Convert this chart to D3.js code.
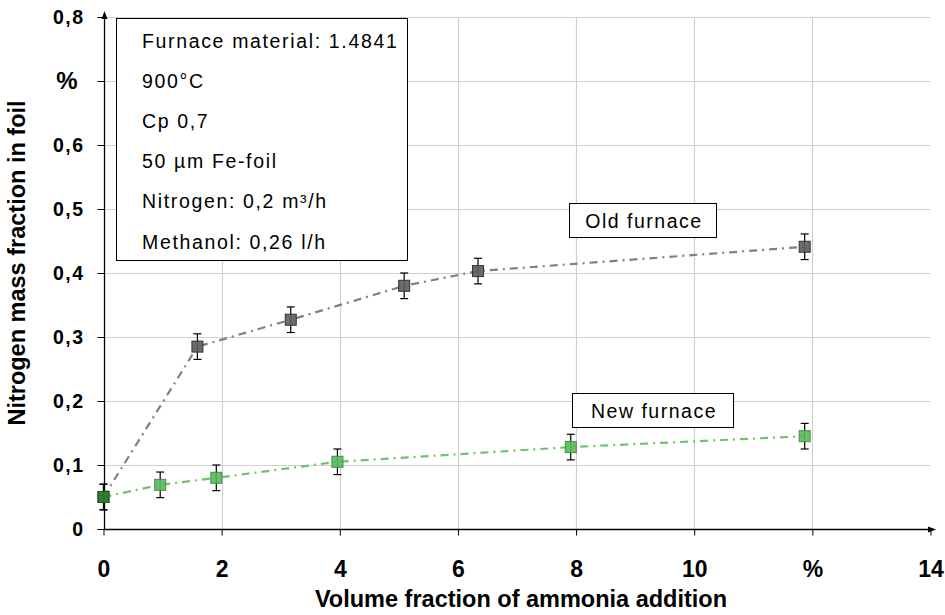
<!DOCTYPE html>
<html><head><meta charset="utf-8">
<script src="https://cdn.jsdelivr.net/npm/d3@7"></script>
<style>body{margin:0;background:#fff}svg{display:block}text{font-family:"Liberation Sans",Arial,sans-serif}</style>
</head><body><svg id="c" width="945" height="615"></svg>
<script>
const xTicks = [0, 2, 4, 6, 8, 10, 12, 14];
const xTickLabels = ["0", "2", "4", "6", "8", "10", "%", "14"];
const yTicks = [0, 0.1, 0.2, 0.3, 0.4, 0.5, 0.6, 0.7, 0.8];
const yTickLabels = ["0", "0,1", "0,2", "0,3", "0,4", "0,5", "0,6", "%", "0,8"];
const oldX = [0, 1.59, 3.17, 5.09, 6.34, 11.87];
const oldY = [0.05, 0.285, 0.327, 0.380, 0.403, 0.441];
const oldErr = [0.02, 0.02, 0.02, 0.02, 0.02, 0.02];
const newX = [0, 0.96, 1.91, 3.96, 7.91, 11.87];
const newY = [0.05, 0.069, 0.080, 0.105, 0.128, 0.145];
const newErr = [0.02, 0.02, 0.02, 0.02, 0.02, 0.02];
const infoLines = ["Furnace material: 1.4841", "900°C", "Cp 0,7", "50 µm Fe-foil", "Nitrogen: 0,2 m³/h", "Methanol: 0,26 l/h"];
const seriesNames = ["Old furnace", "New furnace"];

const svg = d3.select("#c");
const x = d3.scaleLinear().domain([0, 14]).range([103.5, 930.5]);
const y = d3.scaleLinear().domain([0, 0.8]).range([529, 17]);

// grid
const g = svg.append("g");
g.selectAll(".hg").data(yTicks.slice(1)).join("line")
  .attr("x1", x(0)).attr("x2", x(14)).attr("y1", d => Math.round(y(d)) + 0.5).attr("y2", d => Math.round(y(d)) + 0.5)
  .attr("stroke", "#cfcfcf").attr("stroke-width", 1.2);
g.selectAll(".vg").data(xTicks.slice(1, -1)).join("line")
  .attr("x1", d => Math.round(x(d)) + 0.5).attr("x2", d => Math.round(x(d)) + 0.5).attr("y1", y(0)).attr("y2", y(0.8))
  .attr("stroke", "#cfcfcf").attr("stroke-width", 1.2);

// axes
const xAxis = d3.axisBottom(x).tickValues(xTicks).tickFormat((d, i) => xTickLabels[i]).tickSizeOuter(0).tickSize(6).tickPadding(25);
const yAxis = d3.axisLeft(y).tickValues(yTicks).tickFormat((d, i) => yTickLabels[i]).tickSizeOuter(0).tickSize(7).tickPadding(13);
const gx = svg.append("g").attr("transform", `translate(0,${Math.round(y(0)) + 0.5})`).call(xAxis);
const gy = svg.append("g").attr("transform", `translate(${Math.round(x(0)) + 0.5},0)`).call(yAxis);
[gx, gy].forEach(a => {
  a.select(".domain").remove();
  a.selectAll("line").attr("stroke", "#000");
  a.selectAll("text").attr("fill", "#000").style("font-weight", "bold");
});
gx.selectAll("text").style("font-size", "23px");
gy.selectAll("text").style("font-size", "19.5px").style("letter-spacing", "1.5px");
gy.selectAll("text").filter(t => t === "%" ).style("font-size", "24px");
gy.selectAll("text").filter(function() { return this.textContent === "%"; })
  .style("font-size", "24px").style("letter-spacing", "0px").attr("x", -27).attr("text-anchor", "end");

// axis lines with arrows
const ax0 = Math.round(x(0)) + 0.5, ay0 = Math.round(y(0)) + 0.5;
svg.append("line").attr("x1", ax0).attr("x2", ax0).attr("y1", ay0).attr("y2", 14).attr("stroke", "#000").attr("stroke-width", 1.3);
svg.append("line").attr("x1", ax0).attr("x2", 931).attr("y1", ay0).attr("y2", ay0).attr("stroke", "#000").attr("stroke-width", 1.3);
svg.append("path").attr("d", `M${ax0},11 L${ax0 - 3},19 L${ax0 + 3},19 Z`).attr("fill", "#000");
svg.append("path").attr("d", `M936,${ay0} L928,${ay0 - 3} L928,${ay0 + 3} Z`).attr("fill", "#000");

// axis titles
svg.append("text").attr("x", 521).attr("y", 606.5).attr("text-anchor", "middle")
  .style("font-size", "23.5px").style("font-weight", "bold").text("Volume fraction of ammonia addition");
svg.append("text").attr("transform", "translate(25,263) rotate(-90)").attr("text-anchor", "middle")
  .style("font-size", "23.5px").style("font-weight", "bold").text("Nitrogen mass fraction in foil");

// lines
const line = d3.line().x(d => x(d[0])).y(d => y(d[1]));
const oldPts = oldX.map((v, i) => [v, oldY[i], oldErr[i]]);
const newPts = newX.map((v, i) => [v, newY[i], newErr[i]]);
svg.append("path").datum(oldPts).attr("d", line).attr("fill", "none").attr("stroke", "#808080").attr("stroke-width", 2.2).attr("stroke-dasharray", "8,5,2,5");
svg.append("path").datum(newPts).attr("d", line).attr("fill", "none").attr("stroke", "#6cc46c").attr("stroke-width", 2.2).attr("stroke-dasharray", "8,5,2,5");

function drawSeries(pts, fill, stroke, firstFill, firstStroke) {
  const s = svg.append("g");
  const eb = s.selectAll("g.eb").data(pts).join("g");
  eb.append("line").attr("x1", d => x(d[0])).attr("x2", d => x(d[0])).attr("y1", d => y(d[1] - d[2])).attr("y2", d => y(d[1] + d[2])).attr("stroke", "#000").attr("stroke-width", 1.2);
  eb.append("line").attr("x1", d => x(d[0]) - 4).attr("x2", d => x(d[0]) + 4).attr("y1", d => y(d[1] - d[2])).attr("y2", d => y(d[1] - d[2])).attr("stroke", "#000").attr("stroke-width", 1.2);
  eb.append("line").attr("x1", d => x(d[0]) - 4).attr("x2", d => x(d[0]) + 4).attr("y1", d => y(d[1] + d[2])).attr("y2", d => y(d[1] + d[2])).attr("stroke", "#000").attr("stroke-width", 1.2);
  s.selectAll("rect").data(pts).join("rect")
    .attr("x", d => x(d[0]) - 5.5).attr("y", d => y(d[1]) - 5.5).attr("width", 11).attr("height", 11)
    .attr("fill", (d, i) => i === 0 && firstFill ? firstFill : fill)
    .attr("stroke", (d, i) => i === 0 && firstStroke ? firstStroke : stroke).attr("stroke-width", 1).attr("fill-opacity", 0.9);
}
drawSeries(oldPts, "#5c5c5c", "#333333");
drawSeries(newPts, "#5cb85c", "#3f8f3f", "#2e7d2e", "#1e5a1e");

// info box
svg.append("rect").attr("x", 116.5).attr("y", 18.5).attr("width", 291).attr("height", 242).attr("fill", "#fff").attr("stroke", "#000").attr("stroke-width", 1);
svg.selectAll("text.info").data(infoLines).join("text").attr("class", "info")
  .attr("x", 142).attr("y", (d, i) => 47.5 + i * 40.2).style("font-size", "19.5px").style("letter-spacing", "1.65px").attr("fill", "#000").text(d => d);

// series labels
const labels = [{t: seriesNames[0], x: 569.5, y: 203.5, w: 147, h: 34}, {t: seriesNames[1], x: 572.5, y: 393.5, w: 161, h: 34}];
labels.forEach(l => {
  svg.append("rect").attr("x", l.x).attr("y", l.y).attr("width", l.w).attr("height", l.h).attr("fill", "#fff").attr("stroke", "#000");
  svg.append("text").attr("x", l.x + l.w / 2 + 1).attr("y", l.y + l.h / 2 + 7).attr("text-anchor", "middle").style("font-size", "19.5px").style("letter-spacing", "1.5px").text(l.t);
});
</script></body></html>
